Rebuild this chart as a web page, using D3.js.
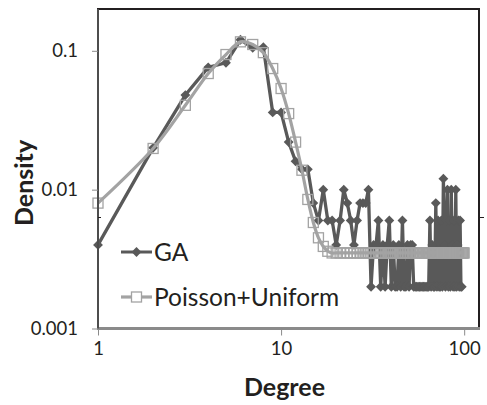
<!DOCTYPE html>
<html>
<head>
<meta charset="utf-8">
<script src="https://cdn.jsdelivr.net/npm/d3@7"></script>
<style>
  html, body { margin: 0; padding: 0; background: #fff; }
  svg { display: block; }
  text { font-family: Lato, "Open Sans", sans-serif; fill: #231f20; }
</style>
</head>
<body>
<svg id="chart" width="487" height="405"></svg>
<script>
// Degree distribution: GA network vs. Poisson+Uniform model (log-log)
const gaDegrees = d3.range(1, 98);
const gaDensity = [
  0.004, 0.02, 0.048, 0.076, 0.082, 0.12, 0.105, 0.106, 0.036, 0.036,
  0.022, 0.016, 0.014, 0.014, 0.008, 0.006, 0.01, 0.006, 0.006, 0.004,
  0.006, 0.01, 0.008, 0.006, 0.004, 0.006, 0.008, 0.008, 0.008, 0.01,
  0.002, 0.004, 0.004, 0.006, 0.002, 0.004, 0.002, 0.004, 0.006, 0.002,
  0.004, 0.002, 0.002, 0.004, 0.002, 0.006, 0.002, 0.002, 0.004, 0.002,
  0.004, 0.004, 0.002, 0.002, 0.002, 0.002, 0.002, 0.002, 0.002, 0.002,
  0.002, 0.002, 0.002, 0.002, 0.006, 0.002, 0.004, 0.002, 0.002, 0.008,
  0.002, 0.006, 0.002, 0.002, 0.006, 0.002, 0.012, 0.004, 0.002, 0.006,
  0.01, 0.002, 0.006, 0.002, 0.01, 0.004, 0.002, 0.006, 0.002, 0.01,
  0.002, 0.004, 0.006, 0.002, 0.006, 0.002, 0.002
];
const modelDegrees = d3.range(1, 101);
const modelDensity = [
  0.008, 0.0198, 0.0405, 0.0686, 0.094, 0.116, 0.111, 0.097, 0.0745, 0.0535,
  0.0353, 0.022, 0.0138, 0.0085, 0.0058, 0.0045, 0.0039, 0.0036, 0.0035, 0.0035,
  0.0035, 0.0035, 0.0035, 0.0035, 0.0035, 0.0035, 0.0035, 0.0035, 0.0035, 0.0035,
  0.0035, 0.0035, 0.0035, 0.0035, 0.0035, 0.0035, 0.0035, 0.0035, 0.0035, 0.0035,
  0.0035, 0.0035, 0.0035, 0.0035, 0.0035, 0.0035, 0.0035, 0.0035, 0.0035, 0.0035,
  0.0035, 0.0035, 0.0035, 0.0035, 0.0035, 0.0035, 0.0035, 0.0035, 0.0035, 0.0035,
  0.0035, 0.0035, 0.0035, 0.0035, 0.0035, 0.0035, 0.0035, 0.0035, 0.0035, 0.0035,
  0.0035, 0.0035, 0.0035, 0.0035, 0.0035, 0.0035, 0.0035, 0.0035, 0.0035, 0.0035,
  0.0035, 0.0035, 0.0035, 0.0035, 0.0035, 0.0035, 0.0035, 0.0035, 0.0035, 0.0035,
  0.0035, 0.0035, 0.0035, 0.0035, 0.0035, 0.0035, 0.0035, 0.0035, 0.0035, 0.0035
];
const xTicks = [1, 10, 100];
const xTickLabels = ["1", "10", "100"];
const yTicks = [0.001, 0.01, 0.1];
const yTickLabels = ["0.001", "0.01", "0.1"];
const crossLevel = 0.0063;
const seriesNames = ["GA", "Poisson+Uniform"];

const W = 487, H = 405;
const margin = { left: 98, right: 8, top: 9, bottom: 76.5 };
const xDomain = [1, 120.5];
const yDomain = [0.001, 0.2];

const svg = d3.select("#chart");
const x = d3.scaleLog().domain(xDomain).range([margin.left, W - margin.right]);
const y = d3.scaleLog().domain(yDomain).range([H - margin.bottom, margin.top]);

const gaColor = "#595959";
const modelColor = "#a3a3a3";

const ga = gaDegrees.map((d, i) => ({ d, v: gaDensity[i] }));
const model = modelDegrees.map((d, i) => ({ d, v: modelDensity[i] }));

// plot frame (top and right edges)
svg.append("rect")
  .attr("x", x(xDomain[0])).attr("y", y(yDomain[1]))
  .attr("width", x(xDomain[1]) - x(xDomain[0]))
  .attr("height", y(yDomain[0]) - y(yDomain[1]))
  .attr("fill", "none").attr("stroke", "#231f20").attr("stroke-width", 2);

// GA series: straight segments with diamond markers
const plot = svg.append("g");
plot.append("path")
  .datum(ga)
  .attr("fill", "none").attr("stroke", gaColor).attr("stroke-width", 3.3)
  .attr("stroke-linejoin", "round")
  .attr("d", d3.line().x(p => x(p.d)).y(p => y(p.v)));
const diamond = d3.symbol().type(d3.symbolDiamond2).size(62);
plot.selectAll(".ga-pt").data(ga).join("path")
  .attr("class", "ga-pt")
  .attr("transform", p => `translate(${x(p.d)},${y(p.v)})`)
  .attr("d", diamond)
  .attr("fill", gaColor);

// Poisson+Uniform series: smoothed line with hollow square markers
plot.append("path")
  .datum(model)
  .attr("fill", "none").attr("stroke", modelColor).attr("stroke-width", 3.2)
  .attr("d", d3.line().curve(d3.curveCatmullRom.alpha(0.5)).x(p => x(p.d)).y(p => y(p.v)));
plot.selectAll(".pu-pt").data(model).join("rect")
  .attr("class", "pu-pt")
  .attr("x", p => x(p.d) - 5).attr("y", p => y(p.v) - 5)
  .attr("width", 10).attr("height", 10)
  .attr("fill", "none").attr("stroke", modelColor).attr("stroke-width", 1.3);

// axes
const xAxis = d3.axisBottom(x).tickValues(xTicks)
  .tickFormat((d, i) => xTickLabels[i]).tickSize(7).tickPadding(6);
const gx = svg.append("g").attr("transform", `translate(0,${y(yDomain[0])})`).call(xAxis);
gx.select(".domain").attr("stroke", "#8a8a8a").attr("stroke-width", 3)
  .attr("d", `M${x(xDomain[0]) - 1},0H${x(xDomain[1]) + 1}`);
gx.selectAll(".tick line").attr("stroke", "#8a8a8a").attr("stroke-width", 1);
gx.selectAll(".tick text").style("font-size", "18.5px").attr("fill", "#231f20");

const yAxis = d3.axisLeft(y).tickValues(yTicks)
  .tickFormat((d, i) => yTickLabels[i]).tickSize(6).tickPadding(14);
const gy = svg.append("g").attr("transform", `translate(${x(xDomain[0])},0)`).call(yAxis);
gy.select(".domain").attr("stroke", "#4d4d4d").attr("stroke-width", 2)
  .attr("d", `M0,${y(yDomain[0])}V${y(yDomain[1])}`);
gy.selectAll(".tick line").attr("stroke", "#8a8a8a").attr("stroke-width", 1);
gy.selectAll(".tick text").style("font-size", "18.5px").attr("fill", "#231f20");

// crossing marks on both vertical edges
svg.append("line")
  .attr("x1", x(xDomain[0])).attr("x2", x(xDomain[0]) + 3)
  .attr("y1", y(crossLevel)).attr("y2", y(crossLevel))
  .attr("stroke", "#231f20").attr("stroke-width", 1);
svg.append("line")
  .attr("x1", x(xDomain[1])).attr("x2", x(xDomain[1]) + 5)
  .attr("y1", y(crossLevel)).attr("y2", y(crossLevel))
  .attr("stroke", "#231f20").attr("stroke-width", 1);

// axis titles
svg.append("text")
  .attr("x", 284.5).attr("y", 396)
  .attr("text-anchor", "middle")
  .style("font-size", "25px").style("font-weight", "bold")
  .text("Degree");
svg.append("text")
  .attr("transform", "translate(33,183) rotate(-90)")
  .attr("text-anchor", "middle")
  .style("font-size", "25px").style("font-weight", "bold")
  .text("Density");

// legend
const legend = svg.append("g").attr("transform", "translate(121,252)");
legend.append("line").attr("x1", 0).attr("x2", 31).attr("y1", 0).attr("y2", 0)
  .attr("stroke", gaColor).attr("stroke-width", 3);
legend.append("path").attr("transform", "translate(15.5,0)").attr("d", diamond).attr("fill", gaColor);
legend.append("text").attr("x", 33).attr("y", 8.7).style("font-size", "24.5px").text(seriesNames[0]);
const leg2 = legend.append("g").attr("transform", "translate(0,45)");
leg2.append("line").attr("x1", 0).attr("x2", 31).attr("y1", 0).attr("y2", 0)
  .attr("stroke", modelColor).attr("stroke-width", 3.2);
leg2.append("rect").attr("x", 10.5).attr("y", -5).attr("width", 10).attr("height", 10)
  .attr("fill", "#fff").attr("stroke", modelColor).attr("stroke-width", 1.3);
leg2.append("text").attr("x", 33).attr("y", 8.5).style("font-size", "24.5px").text(seriesNames[1]);
</script>
</body>
</html>
